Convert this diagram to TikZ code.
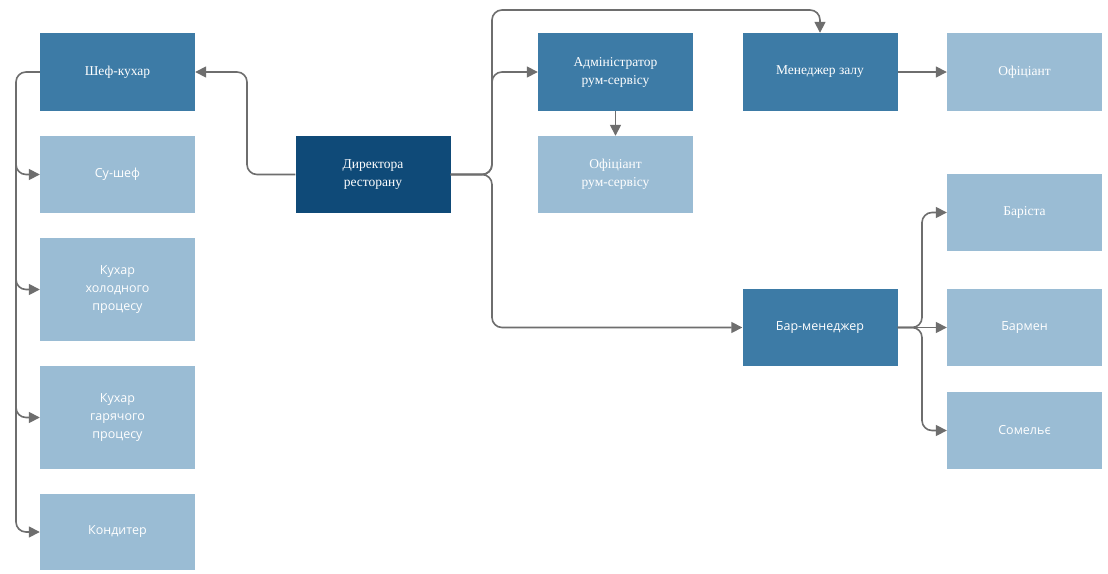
\documentclass[tikz,border=0pt]{standalone}
\usepackage{fontspec}
\setmainfont{Liberation Serif}
\newfontfamily\sansf{Open Sans}
\usetikzlibrary{arrows.meta}
\definecolor{navy}{HTML}{0F4A78}
\definecolor{mid}{HTML}{3D7BA6}
\definecolor{light}{HTML}{9ABCD4}
\definecolor{conn}{HTML}{6E6E6E}
\tikzset{
  box/.style={minimum width=155pt, minimum height=78pt, inner sep=2pt, align=center, text=white, font=\fontsize{13.5}{18}\selectfont, draw=none},
  navybox/.style={box, fill=navy},
  midbox/.style={box, fill=mid},
  lightbox/.style={box, fill=light},
  sansbox/.style={font=\sansf\fontsize{12.5}{18}\selectfont},
  link/.style={draw=conn, line width=1.6pt, rounded corners=10pt, -{Triangle[length=11pt,width=11pt]}}
}
\begin{document}
\begin{tikzpicture}[x=1pt,y=-1pt]
\useasboundingbox[fill=white] (0,0) rectangle (1108,573);
% left column
\node[midbox] (chef) at (117.5,72) {Шеф-кухар};
\node[lightbox, sansbox, minimum height=77pt] (sous) at (117.5,174.5) {Су-шеф};
\node[lightbox, sansbox, minimum height=103pt] (cold) at (117.5,289.5) {Кухар\\холодного\\процесу};
\node[lightbox, sansbox, minimum height=103pt] (hot) at (117.5,417.5) {Кухар\\гарячого\\процесу};
\node[lightbox, sansbox, minimum height=76pt] (pastry) at (117.5,532) {Кондитер};
% center
\node[navybox, minimum height=77pt] (dir) at (373,174.5) {Директора\\ресторану};
\node[midbox] (adm) at (615.5,72) {Адміністратор\\рум-сервісу};
\node[lightbox, minimum height=77pt] (rsw) at (615.5,174.5) {Офіціант\\рум-сервісу};
\node[midbox] (mgr) at (820,72) {Менеджер залу};
\node[lightbox] (wait) at (1024.5,72) {Офіціант};
\node[lightbox, minimum height=77pt] (barista) at (1024.5,212.5) {Баріста};
\node[midbox, sansbox, minimum height=77pt] (barmgr) at (820,327.5) {Бар-менеджер};
\node[lightbox, sansbox, minimum height=77pt] (bartender) at (1024.5,327.5) {Бармен};
\node[lightbox, sansbox, minimum height=77pt] (som) at (1024.5,430.5) {Сомельє};
% connectors: director to chef
\draw[link] (dir.west) -- (247,174.5) |- (chef.east);
% chef to kitchen staff
\draw[link] (chef.west) -- (16,72) -- (16,532) -- (pastry.west);
\draw[link] (16,154) |- (sous.west);
\draw[link] (16,270) |- (cold.west);
\draw[link] (16,398) |- (hot.west);
% director to right side
\draw[link] (dir.east) -- (492,174.5) |- (adm.west);
\draw[link] (dir.east) -- (492,174.5) |- (barmgr.west);
\draw[link] (dir.east) -- (492,174.5) -- (492,10) -| (mgr.north);
\draw[link] (adm.south) -- (rsw.north);
\draw[link] (mgr.east) -- (wait.west);
% bar manager
\draw[link] (barmgr.east) -- (922,327.5) |- (barista.west);
\draw[link] (barmgr.east) -- (922,327.5) |- (som.west);
\draw[link] (barmgr.east) -- (bartender.west);
\end{tikzpicture}
\end{document}
